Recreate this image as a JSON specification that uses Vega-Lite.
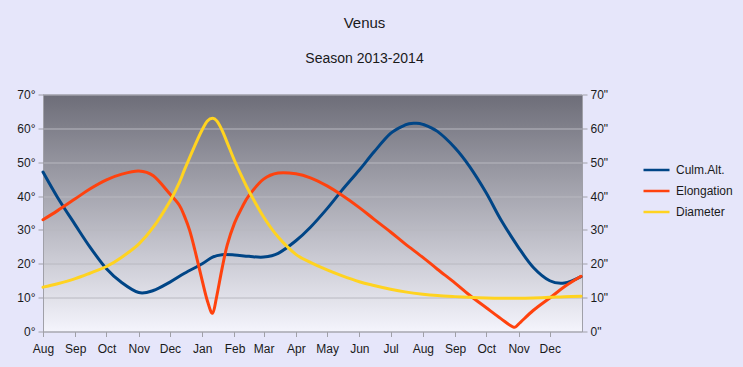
{
  "$schema": "https://vega.github.io/schema/vega-lite/v6.json",
  "width": 539,
  "height": 237,
  "autosize": {"type": "none"},
  "padding": {"left": 43, "top": 94.5, "right": 161, "bottom": 35.5},
  "background": "#e6e6fa",
  "title": {
    "text": "Venus",
    "subtitle": "Season 2013-2014",
    "anchor": "middle",
    "frame": "group",
    "dx": 52,
    "offset": 23,
    "subtitlePadding": 21,
    "font": "Liberation Sans",
    "fontSize": 15,
    "fontWeight": "normal",
    "color": "#1a1a1a",
    "subtitleFont": "Liberation Sans",
    "subtitleFontSize": 14,
    "subtitleColor": "#1a1a1a"
  },
  "view": {
    "stroke": null,
    "fill": {
      "gradient": "linear",
      "x1": 0, "y1": 0, "x2": 0, "y2": 1,
      "stops": [
        {"offset": 0, "color": "#6d6d78"},
        {"offset": 1, "color": "#f4f4fc"}
      ]
    }
  },
  "data": {
    "format": {"parse": {"d": "date:'%Y-%m-%d'"}},
    "values": [
      {"d": "2013-08-01", "s": "Culm.Alt.", "v": 47.1},
      {"d": "2013-08-15", "s": "Culm.Alt.", "v": 39.6},
      {"d": "2013-09-01", "s": "Culm.Alt.", "v": 31.5},
      {"d": "2013-09-15", "s": "Culm.Alt.", "v": 25.0},
      {"d": "2013-10-01", "s": "Culm.Alt.", "v": 18.5},
      {"d": "2013-10-15", "s": "Culm.Alt.", "v": 14.6},
      {"d": "2013-11-01", "s": "Culm.Alt.", "v": 11.5},
      {"d": "2013-11-15", "s": "Culm.Alt.", "v": 12.1},
      {"d": "2013-12-01", "s": "Culm.Alt.", "v": 14.6},
      {"d": "2013-12-15", "s": "Culm.Alt.", "v": 17.2},
      {"d": "2014-01-01", "s": "Culm.Alt.", "v": 20.0},
      {"d": "2014-01-11", "s": "Culm.Alt.", "v": 22.0},
      {"d": "2014-01-20", "s": "Culm.Alt.", "v": 22.7},
      {"d": "2014-02-01", "s": "Culm.Alt.", "v": 22.6},
      {"d": "2014-02-15", "s": "Culm.Alt.", "v": 22.2},
      {"d": "2014-03-01", "s": "Culm.Alt.", "v": 22.0},
      {"d": "2014-03-15", "s": "Culm.Alt.", "v": 23.1},
      {"d": "2014-04-01", "s": "Culm.Alt.", "v": 26.8},
      {"d": "2014-04-15", "s": "Culm.Alt.", "v": 30.8},
      {"d": "2014-05-01", "s": "Culm.Alt.", "v": 36.3},
      {"d": "2014-05-15", "s": "Culm.Alt.", "v": 41.6},
      {"d": "2014-06-01", "s": "Culm.Alt.", "v": 47.7},
      {"d": "2014-06-15", "s": "Culm.Alt.", "v": 53.0},
      {"d": "2014-07-01", "s": "Culm.Alt.", "v": 58.5},
      {"d": "2014-07-15", "s": "Culm.Alt.", "v": 61.0},
      {"d": "2014-07-24", "s": "Culm.Alt.", "v": 61.5},
      {"d": "2014-08-01", "s": "Culm.Alt.", "v": 61.2},
      {"d": "2014-08-15", "s": "Culm.Alt.", "v": 59.1},
      {"d": "2014-09-01", "s": "Culm.Alt.", "v": 54.2},
      {"d": "2014-09-15", "s": "Culm.Alt.", "v": 48.7},
      {"d": "2014-10-01", "s": "Culm.Alt.", "v": 40.9},
      {"d": "2014-10-15", "s": "Culm.Alt.", "v": 33.0},
      {"d": "2014-11-01", "s": "Culm.Alt.", "v": 24.8},
      {"d": "2014-11-15", "s": "Culm.Alt.", "v": 19.0},
      {"d": "2014-12-01", "s": "Culm.Alt.", "v": 15.0},
      {"d": "2014-12-15", "s": "Culm.Alt.", "v": 14.3},
      {"d": "2014-12-31", "s": "Culm.Alt.", "v": 16.2},

      {"d": "2013-08-01", "s": "Elongation", "v": 33.0},
      {"d": "2013-08-15", "s": "Elongation", "v": 35.7},
      {"d": "2013-09-01", "s": "Elongation", "v": 39.2},
      {"d": "2013-09-15", "s": "Elongation", "v": 42.1},
      {"d": "2013-10-01", "s": "Elongation", "v": 44.8},
      {"d": "2013-10-15", "s": "Elongation", "v": 46.4},
      {"d": "2013-11-01", "s": "Elongation", "v": 47.4},
      {"d": "2013-11-15", "s": "Elongation", "v": 46.0},
      {"d": "2013-12-01", "s": "Elongation", "v": 40.6},
      {"d": "2013-12-10", "s": "Elongation", "v": 37.3},
      {"d": "2013-12-15", "s": "Elongation", "v": 34.0},
      {"d": "2013-12-20", "s": "Elongation", "v": 29.8},
      {"d": "2013-12-25", "s": "Elongation", "v": 24.0},
      {"d": "2014-01-01", "s": "Elongation", "v": 15.0},
      {"d": "2014-01-06", "s": "Elongation", "v": 9.0},
      {"d": "2014-01-11", "s": "Elongation", "v": 5.4},
      {"d": "2014-01-15", "s": "Elongation", "v": 10.5},
      {"d": "2014-01-20", "s": "Elongation", "v": 18.5},
      {"d": "2014-01-25", "s": "Elongation", "v": 25.5},
      {"d": "2014-02-01", "s": "Elongation", "v": 32.0},
      {"d": "2014-02-08", "s": "Elongation", "v": 36.5},
      {"d": "2014-02-15", "s": "Elongation", "v": 40.2},
      {"d": "2014-03-01", "s": "Elongation", "v": 45.0},
      {"d": "2014-03-15", "s": "Elongation", "v": 46.8},
      {"d": "2014-04-01", "s": "Elongation", "v": 46.6},
      {"d": "2014-04-15", "s": "Elongation", "v": 45.4},
      {"d": "2014-05-01", "s": "Elongation", "v": 43.0},
      {"d": "2014-05-15", "s": "Elongation", "v": 40.3},
      {"d": "2014-06-01", "s": "Elongation", "v": 36.6},
      {"d": "2014-06-15", "s": "Elongation", "v": 33.2},
      {"d": "2014-07-01", "s": "Elongation", "v": 29.4},
      {"d": "2014-07-15", "s": "Elongation", "v": 25.9},
      {"d": "2014-08-01", "s": "Elongation", "v": 21.9},
      {"d": "2014-08-15", "s": "Elongation", "v": 18.4},
      {"d": "2014-09-01", "s": "Elongation", "v": 14.3},
      {"d": "2014-09-15", "s": "Elongation", "v": 10.7},
      {"d": "2014-10-01", "s": "Elongation", "v": 7.0},
      {"d": "2014-10-15", "s": "Elongation", "v": 3.8},
      {"d": "2014-10-27", "s": "Elongation", "v": 1.3},
      {"d": "2014-11-01", "s": "Elongation", "v": 2.2},
      {"d": "2014-11-15", "s": "Elongation", "v": 6.2},
      {"d": "2014-12-01", "s": "Elongation", "v": 9.9},
      {"d": "2014-12-15", "s": "Elongation", "v": 13.2},
      {"d": "2014-12-31", "s": "Elongation", "v": 16.3},

      {"d": "2013-08-01", "s": "Diameter", "v": 13.1},
      {"d": "2013-08-15", "s": "Diameter", "v": 14.1},
      {"d": "2013-09-01", "s": "Diameter", "v": 15.6},
      {"d": "2013-09-15", "s": "Diameter", "v": 17.2},
      {"d": "2013-10-01", "s": "Diameter", "v": 19.2},
      {"d": "2013-10-15", "s": "Diameter", "v": 21.8},
      {"d": "2013-11-01", "s": "Diameter", "v": 25.8},
      {"d": "2013-11-15", "s": "Diameter", "v": 30.8},
      {"d": "2013-12-01", "s": "Diameter", "v": 38.5},
      {"d": "2013-12-10", "s": "Diameter", "v": 44.0},
      {"d": "2013-12-15", "s": "Diameter", "v": 47.8},
      {"d": "2013-12-25", "s": "Diameter", "v": 55.0},
      {"d": "2014-01-01", "s": "Diameter", "v": 59.6},
      {"d": "2014-01-06", "s": "Diameter", "v": 62.2},
      {"d": "2014-01-11", "s": "Diameter", "v": 63.0},
      {"d": "2014-01-15", "s": "Diameter", "v": 62.2},
      {"d": "2014-01-20", "s": "Diameter", "v": 59.5},
      {"d": "2014-01-25", "s": "Diameter", "v": 55.8},
      {"d": "2014-02-01", "s": "Diameter", "v": 50.5},
      {"d": "2014-02-08", "s": "Diameter", "v": 45.8},
      {"d": "2014-02-15", "s": "Diameter", "v": 41.4},
      {"d": "2014-03-01", "s": "Diameter", "v": 33.8},
      {"d": "2014-03-15", "s": "Diameter", "v": 27.9},
      {"d": "2014-04-01", "s": "Diameter", "v": 22.8},
      {"d": "2014-04-15", "s": "Diameter", "v": 20.4},
      {"d": "2014-05-01", "s": "Diameter", "v": 18.2},
      {"d": "2014-05-15", "s": "Diameter", "v": 16.5},
      {"d": "2014-06-01", "s": "Diameter", "v": 14.7},
      {"d": "2014-06-15", "s": "Diameter", "v": 13.6},
      {"d": "2014-07-01", "s": "Diameter", "v": 12.5},
      {"d": "2014-07-15", "s": "Diameter", "v": 11.7},
      {"d": "2014-08-01", "s": "Diameter", "v": 11.0},
      {"d": "2014-08-15", "s": "Diameter", "v": 10.6},
      {"d": "2014-09-01", "s": "Diameter", "v": 10.3},
      {"d": "2014-09-15", "s": "Diameter", "v": 10.1},
      {"d": "2014-10-01", "s": "Diameter", "v": 9.9},
      {"d": "2014-10-15", "s": "Diameter", "v": 9.8},
      {"d": "2014-11-01", "s": "Diameter", "v": 9.8},
      {"d": "2014-11-15", "s": "Diameter", "v": 9.9},
      {"d": "2014-12-01", "s": "Diameter", "v": 10.1},
      {"d": "2014-12-15", "s": "Diameter", "v": 10.3},
      {"d": "2014-12-31", "s": "Diameter", "v": 10.4}
    ]
  },
  "encoding": {
    "x": {
      "field": "d",
      "type": "temporal",
      "scale": {"domain": [{"year": 2013, "month": 8, "date": 1}, {"year": 2014, "month": 12, "date": 31, "hours": 23}]},
      "axis": {
        "title": null,
        "format": "%b",
        "tickCount": {"interval": "month", "step": 1},
        "labelFlush": false,
        "labelOverlap": false,
        "grid": false,
        "domainColor": "#a0a0a8",
        "tickColor": "#a0a0a8",
        "tickSize": 5,
        "labelPadding": 7,
        "labelFont": "Liberation Sans",
        "labelFontSize": 12,
        "labelColor": "#1a1a1a"
      }
    },
    "color": {
      "field": "s",
      "type": "nominal",
      "scale": {"domain": ["Culm.Alt.", "Elongation", "Diameter"], "range": ["#004586", "#ff420e", "#ffd320"]},
      "legend": {
        "title": null,
        "orient": "none",
        "legendX": 599,
        "legendY": 61,
        "padding": 0,
        "symbolType": "stroke",
        "symbolSize": 676,
        "symbolStrokeWidth": 2.5,
        "rowPadding": 0,
        "labelOffset": 5,
        "labelFont": "Liberation Sans",
        "labelFontSize": 12,
        "labelColor": "#1a1a1a"
      }
    }
  },
  "layer": [
    {
      "transform": [{"filter": "datum.s != 'Diameter'"}],
      "mark": {"type": "line", "interpolate": "cardinal", "strokeWidth": 3, "strokeCap": "round", "strokeJoin": "round"},
      "encoding": {
        "y": {
          "field": "v",
          "type": "quantitative",
          "scale": {"domain": [0, 70], "nice": false},
          "axis": {
            "title": null,
            "values": [0, 10, 20, 30, 40, 50, 60, 70],
            "labelExpr": "datum.value + '°'",
            "grid": true,
            "gridColor": "#b8b8c0",
            "domainColor": "#a0a0a8",
            "tickColor": "#a0a0a8",
            "tickSize": 5,
            "labelPadding": 3,
            "labelFont": "Liberation Sans",
            "labelFontSize": 12,
            "labelColor": "#1a1a1a"
          }
        }
      }
    },
    {
      "transform": [{"filter": "datum.s == 'Diameter'"}],
      "mark": {"type": "line", "interpolate": "cardinal", "strokeWidth": 3, "strokeCap": "round", "strokeJoin": "round"},
      "encoding": {
        "y": {
          "field": "v",
          "type": "quantitative",
          "scale": {"domain": [0, 70], "nice": false},
          "axis": {
            "title": null,
            "orient": "right",
            "values": [0, 10, 20, 30, 40, 50, 60, 70],
            "labelExpr": "datum.value + '\"'",
            "grid": false,
            "domainColor": "#a0a0a8",
            "tickColor": "#a0a0a8",
            "tickSize": 5,
            "labelPadding": 3,
            "labelFont": "Liberation Sans",
            "labelFontSize": 12,
            "labelColor": "#1a1a1a"
          }
        }
      }
    }
  ],
  "resolve": {"scale": {"y": "independent"}}
}
